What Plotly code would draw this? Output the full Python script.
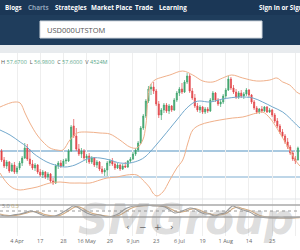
import plotly.graph_objects as go

W, H = 300, 250

def px(v):   # horizontal pixel -> paper
    return v / W

def py(v):   # vertical pixel -> paper
    return 1 - v / H

# ---------------- data ----------------
tick_idx = [0, 9, 18, 27, 36, 45, 54, 63, 72, 81, 90, 99, 108]
tick_labels = ["4 Apr", "17", "28", "16 May", "29", "9 Jun", "23", "6 Jul",
               "19", "1 Aug", "14", "25", "7 Sep"]

candle_idx = list(range(-6, 110))

opens = [57.45, 57.00, 56.70, 56.90, 56.45, 56.75, 56.40, 56.60, 56.85, 57.10,
         57.60, 57.05, 56.80, 56.60, 56.75, 56.40, 56.25, 56.40, 56.15, 56.30,
         55.95, 55.85, 56.70, 56.85, 56.70, 56.95, 56.95, 57.45, 58.70, 58.20,
         57.55, 57.30, 57.45, 57.10, 57.20, 56.90, 57.10, 56.75, 56.90, 56.55,
         56.40, 56.50, 56.85, 56.95, 56.80, 56.60, 56.75, 56.55, 56.70, 56.65,
         56.95, 57.05, 57.30, 57.50, 57.85, 58.60, 59.20, 59.95, 60.55, 60.65,
         60.45, 59.80, 59.25, 59.50, 59.75, 59.45, 59.70, 59.50, 60.00, 60.35,
         60.55, 60.40, 60.90, 61.20, 60.45, 60.10, 59.70, 59.50, 59.65, 59.40,
         59.55, 59.45, 60.00, 60.35, 60.00, 59.80, 59.90, 60.20, 60.50, 61.05,
         60.60, 60.40, 60.15, 60.35, 60.20, 60.30, 60.50, 60.25, 59.90, 59.60,
         59.40, 59.55, 59.45, 59.65, 59.40, 59.50, 59.25, 58.95, 58.70, 58.40,
         58.20, 57.90, 57.65, 57.35, 57.05, 57.00]
highs = [57.55, 57.15, 57.00, 56.95, 56.85, 56.90, 56.70, 56.95, 57.20, 57.85,
         57.80, 57.55, 57.00, 56.85, 56.80, 56.55, 56.50, 56.45, 56.40, 56.35,
         56.10, 56.80, 56.95, 57.00, 57.05, 57.10, 57.55, 58.75, 59.05, 58.60,
         57.80, 57.60, 57.55, 57.30, 57.35, 57.20, 57.15, 57.00, 56.95, 56.70,
         56.60, 56.95, 57.05, 57.10, 56.90, 56.85, 56.80, 56.80, 56.90, 57.00,
         57.15, 57.40, 57.60, 57.95, 58.70, 59.30, 60.05, 60.70, 60.80, 60.90,
         60.55, 59.95, 59.60, 59.85, 59.85, 59.80, 59.75, 60.10, 60.45, 60.65,
         60.85, 61.00, 61.35, 61.30, 60.60, 60.30, 59.85, 59.75, 59.70, 59.65,
         59.65, 60.10, 60.45, 60.40, 60.10, 60.00, 60.30, 60.60, 61.20, 61.15,
         60.75, 60.55, 60.45, 60.50, 60.40, 60.60, 60.55, 60.30, 60.00, 59.70,
         59.60, 59.70, 59.70, 59.70, 59.60, 59.55, 59.35, 59.10, 58.80, 58.55,
         58.30, 58.10, 57.75, 57.45, 57.20, 57.67]
lows = [56.90, 56.60, 56.55, 56.35, 56.40, 56.30, 56.30, 56.50, 56.70, 57.05,
        56.95, 56.70, 56.50, 56.45, 56.30, 56.15, 56.10, 56.05, 56.00, 55.85,
        55.75, 55.80, 56.55, 56.60, 56.65, 56.80, 56.90, 57.40, 58.10, 57.45,
        57.20, 57.10, 57.00, 56.85, 56.80, 56.80, 56.65, 56.60, 56.45, 56.30,
        56.20, 56.20, 56.70, 56.70, 56.50, 56.55, 56.45, 56.50, 56.60, 56.60,
        56.85, 57.00, 57.20, 57.40, 57.80, 58.50, 59.10, 59.85, 60.25, 60.30,
        59.70, 59.10, 59.00, 59.35, 59.35, 59.30, 59.40, 59.45, 59.90, 60.20,
        60.30, 60.35, 60.80, 60.35, 60.00, 59.60, 59.40, 59.35, 59.30, 59.30,
        59.35, 59.40, 59.90, 59.90, 59.70, 59.65, 59.80, 60.10, 60.45, 60.50,
        60.30, 60.05, 60.05, 60.10, 60.05, 60.20, 60.15, 59.80, 59.50, 59.30,
        59.30, 59.35, 59.40, 59.35, 59.35, 59.15, 58.85, 58.60, 58.30, 58.10,
        57.80, 57.55, 57.25, 56.95, 56.80, 56.98]
closes = [57.00, 56.70, 56.90, 56.45, 56.75, 56.40, 56.60, 56.85, 57.10, 57.60,
          57.05, 56.80, 56.60, 56.75, 56.40, 56.25, 56.40, 56.15, 56.30, 55.95,
          55.85, 56.70, 56.85, 56.70, 56.95, 57.00, 57.45, 58.65, 58.20, 57.55,
          57.30, 57.45, 57.10, 57.20, 56.90, 57.10, 56.75, 56.90, 56.55, 56.40,
          56.50, 56.85, 56.95, 56.80, 56.60, 56.75, 56.55, 56.70, 56.65, 56.95,
          57.05, 57.30, 57.50, 57.85, 58.60, 59.20, 59.95, 60.55, 60.65, 60.45,
          59.80, 59.25, 59.50, 59.75, 59.45, 59.70, 59.50, 60.00, 60.35, 60.55,
          60.40, 60.90, 61.20, 60.45, 60.10, 59.70, 59.50, 59.65, 59.40, 59.55,
          59.45, 60.00, 60.35, 60.00, 59.80, 59.90, 60.20, 60.50, 61.05, 60.60,
          60.40, 60.15, 60.35, 60.20, 60.30, 60.50, 60.25, 59.90, 59.60, 59.40,
          59.55, 59.45, 59.65, 59.40, 59.50, 59.25, 58.95, 58.70, 58.40, 58.20,
          57.90, 57.65, 57.35, 57.05, 56.95, 57.60]

# Bollinger bands
upper_x = [-6.6, -2.7, -0.8, 1.2, 3.1, 5.0, 7.8, 10.1, 12.8, 15.5, 17.8, 20.5, 23.3,
           27.1, 32.2, 36.0, 39.9, 43.8, 46.5, 48.8, 50.0, 51.6, 53.5, 56.6, 59.3,
           64.3, 68.2, 72.1, 76.0, 79.8, 83.3, 87.6, 93.0, 98.1, 100.8, 103.1,
           105.8, 108.5, 109.8]
upper_v = [59.65, 59.85, 59.90, 59.85, 59.35, 58.85, 58.25, 57.90, 57.60, 57.50,
           57.50, 58.00, 58.35, 58.40, 58.35, 58.30, 58.00, 57.65, 57.60, 58.00,
           58.75, 60.70, 61.00, 61.15, 61.25, 61.45, 61.25, 60.95, 60.90, 61.10,
           61.25, 61.10, 60.95, 61.00, 61.10, 60.90, 60.75, 60.40, 60.30]
mid_x = [-6.6, -2.7, 1.2, 3.9, 6.2, 8.9, 11.6, 14.7, 18.6, 22.5, 25.6, 28.3, 32.2,
         36.0, 39.9, 43.8, 47.7, 49.6, 51.6, 56.6, 62.0, 65.9, 69.0, 70.9, 74.8,
         79.8, 86.4, 91.5, 95.3, 99.2, 103.1, 105.8, 108.5, 109.8]
mid_v = [58.50, 58.25, 57.90, 57.65, 57.35, 57.10, 56.90, 56.75, 56.65, 56.75,
         56.95, 57.10, 57.10, 57.00, 56.85, 56.85, 57.00, 57.15, 57.40, 58.15,
         59.00, 59.60, 59.90, 59.95, 59.90, 60.05, 60.15, 60.10, 59.90, 59.65,
         59.40, 59.10, 58.75, 58.60]
lower_x = [-6.6, -3.9, -1.6, 1.2, 3.9, 7.8, 12.8, 16.7, 20.5, 24.4, 28.3, 32.2,
           34.9, 38.8, 42.6, 46.5, 48.8, 51.6, 52.7, 54.3, 56.6, 59.3, 62.0, 64.3,
           66.3, 68.2, 70.9, 74.8, 78.7, 83.7, 87.6, 93.0, 95.3, 98.1, 100.8,
           103.1, 105.8, 108.5, 109.8]
lower_v = [56.35, 55.85, 55.60, 55.50, 55.55, 55.65, 55.85, 55.90, 55.85, 55.85,
           55.85, 56.00, 56.10, 56.15, 56.25, 56.25, 56.00, 55.60, 55.35, 55.20,
           55.40, 56.00, 56.60, 57.00, 57.85, 58.50, 58.75, 58.90, 59.00, 59.10,
           59.15, 59.35, 59.40, 59.10, 58.60, 58.10, 57.50, 56.90, 56.70]

levels = [57.45, 56.15]

# oscillator
osc_x = [-6.6, -3.9, -1.6, 1.2, 3.9, 5.0, 7.0, 8.9, 10.9, 14.7, 16.7, 18.6, 20.5,
         21.7, 23.3, 25.2, 27.1, 29.5, 32.2, 34.9, 37.2, 39.9, 41.9, 43.8, 45.7,
         47.7, 50.4, 52.7, 55.4, 57.4, 59.3, 61.2, 63.2, 65.1, 67.1, 69.0, 70.9,
         72.9, 74.8, 76.7, 78.7, 80.6, 82.6, 83.7, 85.7, 87.6, 90.3, 92.2, 94.2,
         98.1, 101.9, 105.8, 109.7]
osc_fast = [30, 25, 30, 35, 45, 50, 45, 35, 25, 25, 35, 50, 65, 75, 70, 55, 40, 30,
            30, 20, 25, 40, 60, 70, 75, 75, 80, 75, 75, 70, 55, 40, 45, 55, 65, 60,
            45, 35, 35, 25, 35, 40, 65, 75, 65, 55, 45, 30, 20, 15, 15, 15, 20]
osc_slow = [35, 28, 27, 32, 40, 45, 47, 42, 32, 25, 28, 40, 55, 65, 72, 65, 50, 37,
            30, 25, 22, 30, 45, 60, 70, 75, 77, 78, 75, 73, 63, 50, 43, 48, 58, 62,
            55, 42, 37, 30, 30, 35, 50, 62, 70, 62, 52, 40, 28, 18, 15, 15, 17]
osc_levels = [80, 50, 20]

# ---------------- figure ----------------
fig = go.Figure()

fig.add_trace(go.Candlestick(
    x=candle_idx, open=opens, high=highs, low=lows, close=closes,
    increasing=dict(line=dict(color="#3fa56e", width=0.7), fillcolor="#3fa56e"),
    decreasing=dict(line=dict(color="#e2474b", width=0.7), fillcolor="#e2474b"),
    whiskerwidth=0, xaxis="x", yaxis="y", showlegend=False, hoverinfo="skip"))

band_orange = "#f0b08a"
fig.add_trace(go.Scatter(x=upper_x, y=upper_v, mode="lines",
                         line=dict(color=band_orange, width=1, shape="spline"),
                         xaxis="x", yaxis="y", showlegend=False, hoverinfo="skip"))
fig.add_trace(go.Scatter(x=lower_x, y=lower_v, mode="lines",
                         line=dict(color=band_orange, width=1, shape="spline"),
                         xaxis="x", yaxis="y", showlegend=False, hoverinfo="skip"))
fig.add_trace(go.Scatter(x=mid_x, y=mid_v, mode="lines",
                         line=dict(color="#72a8cc", width=1, shape="spline"),
                         xaxis="x", yaxis="y", showlegend=False, hoverinfo="skip"))

fig.add_trace(go.Scatter(x=osc_x, y=osc_slow, mode="lines",
                         line=dict(color="#d3ad84", width=1.1, shape="spline"),
                         xaxis="x2", yaxis="y2", showlegend=False, hoverinfo="skip"))
fig.add_trace(go.Scatter(x=osc_x, y=osc_fast, mode="lines",
                         line=dict(color="#9a9a9a", width=1.1, shape="spline"),
                         xaxis="x2", yaxis="y2", showlegend=False, hoverinfo="skip"))

shapes = []
# price levels
for lv, wd in zip(levels, [2, 1.5]):
    shapes.append(dict(type="line", xref="paper", yref="y", x0=0, x1=1, y0=lv, y1=lv,
                       line=dict(color="#a9c9e0", width=wd), layer="below"))
# oscillator levels
shapes.append(dict(type="line", xref="paper", yref="y2", x0=0, x1=1,
                   y0=osc_levels[0], y1=osc_levels[0], line=dict(color="#a8a8a8", width=1.5)))
shapes.append(dict(type="line", xref="paper", yref="y2", x0=0, x1=1,
                   y0=osc_levels[1], y1=osc_levels[1], line=dict(color="#9a9a9a", width=1, dash="dot")))
shapes.append(dict(type="line", xref="paper", yref="y2", x0=0, x1=1,
                   y0=osc_levels[2], y1=osc_levels[2], line=dict(color="#a8a8a8", width=1.5)))
# panel separator
shapes.append(dict(type="line", xref="paper", yref="paper", x0=0, x1=1,
                   y0=py(199), y1=py(199), line=dict(color="#e2e5e8", width=1)))
# header
shapes.append(dict(type="rect", xref="paper", yref="paper", x0=0, x1=1, y0=py(15), y1=1,
                   fillcolor="#1b3756", line=dict(width=0), layer="above"))
shapes.append(dict(type="rect", xref="paper", yref="paper", x0=0, x1=1, y0=py(45), y1=py(15),
                   fillcolor="#1f3d5c", line=dict(width=0), layer="above"))
shapes.append(dict(type="rect", xref="paper", yref="paper", x0=px(40), x1=px(262),
                   y0=py(38), y1=py(21), fillcolor="#ffffff",
                   line=dict(color="#cfd6dd", width=1), layer="above"))
shapes.append(dict(type="rect", xref="paper", yref="paper", x0=0, x1=1, y0=py(53), y1=py(45),
                   fillcolor="#e8ebee", line=dict(width=0), layer="above"))

ann = []
nav = [("Blogs", 3, "#ffffff"), ("Charts", 26, "#8ea2b8"), ("Strategies", 53, "#ffffff"),
       ("Market Place", 89, "#ffffff"), ("Trade", 133, "#ffffff"),
       ("Learning", 157, "#ffffff"), ("Sign in or Sign up", 257, "#ffffff")]
for t, x, c in nav:
    ann.append(dict(text="<b>" + t + "</b>", x=px(x), y=py(7), xref="paper", yref="paper",
                    xanchor="left", yanchor="middle", showarrow=False,
                    font=dict(family="Open Sans", size=6.3, color=c)))
ann.append(dict(text="USD000UTSTOM", x=px(45), y=py(29.5), xref="paper", yref="paper",
                xanchor="left", yanchor="middle", showarrow=False,
                font=dict(family="Open Sans", size=7.5, color="#555555")))
val_c = "#5aa88a"
ohlc = ("H <span style='color:%s'>57.6700</span>  L <span style='color:%s'>56.9800</span>"
        "  C <span style='color:%s'>57.6000</span>  V <span style='color:%s'>4524M</span>"
        % (val_c, val_c, val_c, val_c))
ann.append(dict(text=ohlc, x=px(-1), y=py(61.5), xref="paper", yref="paper",
                xanchor="left", yanchor="middle", showarrow=False,
                font=dict(family="Open Sans", size=5.5, color="#555555")))
ann.append(dict(text="5.0 <span style='color:#b9a46c'>0.3</span>", x=px(0), y=py(206),
                xref="paper", yref="paper", xanchor="left", yanchor="middle", showarrow=False,
                font=dict(family="Open Sans", size=5.5, color="#888888")))
ann.append(dict(text="<b><i>SMGroup</i></b>", x=px(186), y=py(219), xref="paper", yref="paper",
                xanchor="center", yanchor="middle", showarrow=False,
                font=dict(family="DejaVu Sans", size=42, color="rgba(150,150,150,0.33)")))
for t, x in [("‹", 128), ("−", 143), ("+", 158), ("›", 172)]:
    ann.append(dict(text=t, x=px(x), y=py(227), xref="paper", yref="paper",
                    xanchor="center", yanchor="middle", showarrow=False,
                    font=dict(family="DejaVu Sans", size=9, color="#666666")))

xr = [-6.6, 109.8]
fig.update_layout(
    width=W, height=H, margin=dict(l=0, r=0, t=0, b=0),
    paper_bgcolor="#ffffff", plot_bgcolor="#ffffff",
    showlegend=False, boxgap=0.35,
    xaxis=dict(domain=[0, 1], range=xr, anchor="y", tickvals=tick_idx,
               showticklabels=False, showgrid=True, gridcolor="#eeeeee", gridwidth=1,
               zeroline=False, showline=False, ticks="", rangeslider=dict(visible=False)),
    yaxis=dict(domain=[py(199), py(53)], range=[55.05, 62.35], showticklabels=False,
               showgrid=False, zeroline=False, showline=False, ticks=""),
    xaxis2=dict(domain=[0, 1], range=xr, anchor="y2", matches="x", tickvals=tick_idx,
                ticktext=tick_labels, showgrid=True, gridcolor="#eeeeee", zeroline=False,
                showline=False, ticks="", tickfont=dict(family="Open Sans", size=5.5, color="#666666")),
    yaxis2=dict(domain=[py(236), py(199)], range=[-75, 110], showticklabels=False,
                showgrid=False, zeroline=False, showline=False, ticks=""),
    shapes=shapes, annotations=ann,
)

fig.write_html("out.html")
